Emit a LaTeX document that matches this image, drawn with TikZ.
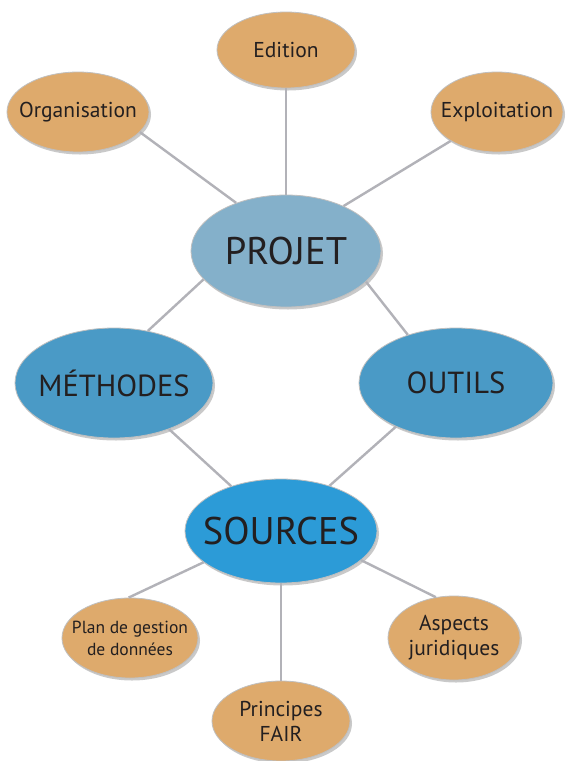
\documentclass[tikz,border=0pt]{standalone}
\usepackage{fontspec}
\setmainfont{PT Sans}
\usetikzlibrary{shapes.geometric,shadows}
\definecolor{orangeb}{RGB}{222,170,108}
\definecolor{projetb}{RGB}{132,176,202}
\definecolor{midb}{RGB}{74,154,198}
\definecolor{srcb}{RGB}{44,155,215}
\definecolor{linkg}{RGB}{178,178,184}
\definecolor{txt}{RGB}{35,31,32}
\tikzset{
  bubble/.style={ellipse, draw=white!75!black, line width=0.8pt, inner sep=0pt,
    drop shadow={shadow xshift=2pt, shadow yshift=-2.5pt, opacity=0.35, fill=black!60}},
  lbl/.style={text=txt, align=center, inner sep=0pt},
  lsmall/.style={lbl, font=\fontsize{21.5}{25}\selectfont},
  ltiny/.style={lbl, font=\fontsize{17.5}{22}\selectfont},
  lbig/.style={lbl, font=\fontsize{38.5}{40}\selectfont},
  lmid/.style={lbl, font=\fontsize{30.5}{32}\selectfont},
  orangebub/.style={bubble, fill=orangeb},
  link/.style={draw=linkg, line width=2.4pt}
}
\begin{document}
\begin{tikzpicture}[x=1pt,y=-1pt]
\useasboundingbox[fill=white] (0,0) rectangle (566,761);
% nodes
\node[orangebub, minimum width=138pt, minimum height=76pt, label={[lsmall]center:Edition}] (edition) at (286,50) {};
\node[orangebub, minimum width=142pt, minimum height=80pt, label={[lsmall]center:Organisation}] (orga) at (78,112) {};
\node[orangebub, minimum width=132pt, minimum height=80pt, label={[lsmall]center:Exploitation}] (exploit) at (497,112) {};
\node[bubble, fill=projetb, minimum width=190pt, minimum height=112pt, label={[lbig]center:PROJET}] (projet) at (286,251) {};
\node[bubble, fill=midb, minimum width=198pt, minimum height=110pt, label={[lmid]center:MÉTHODES}] (methodes) at (114,383) {};
\node[bubble, fill=midb, minimum width=194pt, minimum height=110pt, label={[lmid]center:OUTILS}] (outils) at (456,383) {};
\node[bubble, fill=srcb, minimum width=192pt, minimum height=104pt, label={[lbig]center:SOURCES}] (sources) at (281,531) {};
\node[orangebub, minimum width=136pt, minimum height=80pt, label={[ltiny]center:Plan de gestion\\de données}] (plan) at (130,638) {};
\node[orangebub, minimum width=138pt, minimum height=80pt, label={[lsmall]center:Principes\\FAIR}] (fair) at (281,721) {};
\node[orangebub, minimum width=132pt, minimum height=84pt, label={[lsmall]center:Aspects\\juridiques}] (aspects) at (454,638) {};
% links
\path[link] (orga.-18.7) -- (projet.136.8);
\path[link] (edition.-90) -- (projet.90);
\path[link] (exploit.212.5) -- (projet.38.8);
\path[link] (projet.199) -- (methodes.57.3);
\path[link] (projet.-21.3) -- (outils.135.6);
\path[link] (methodes.-40) -- (sources.138.9);
\path[link] (outils.216.4) -- (sources.43.3);
\path[link] (sources.202.8) -- (plan.92.7);
\path[link] (sources.-90) -- (fair.90);
\path[link] (sources.-20.7) -- (aspects.114);
\end{tikzpicture}
\end{document}
